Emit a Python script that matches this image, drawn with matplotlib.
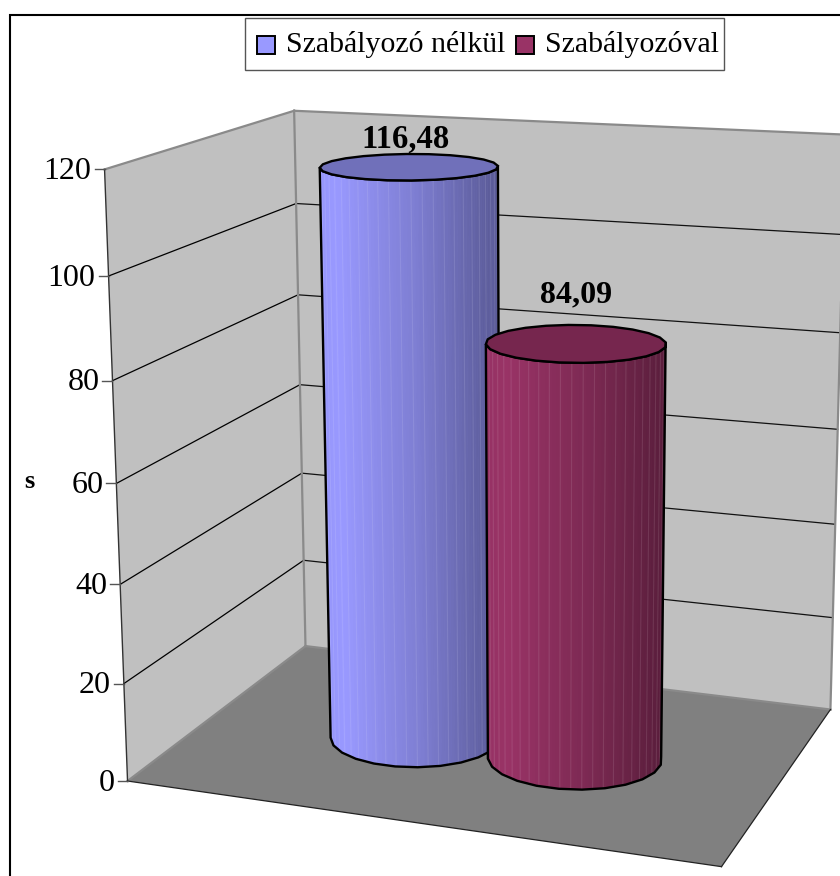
import numpy as np
import matplotlib
matplotlib.use("Agg")
import matplotlib.pyplot as plt
from matplotlib.patches import Polygon, Rectangle

# data
series_names = ["Szabályozó nélkül", "Szabályozóval"]
series_values = [116.48, 84.09]
value_labels = ["116,48", "84,09"]
axis_ticks = [0, 20, 40, 60, 80, 100, 120]
axis_title = "s"
axis_max = 120

# box points (x, depth, value) and where they land on the canvas
box_corners = [(0, 0, 0), (0, 0, 1), (0, 1, 0), (0, 1, 1), (1, 1, 0), (1, 1, 1), (1, 0, 0),
               (0, 0, 0.5), (0, 1, 0.5), (1, 1, 0.5)]
canvas_corners = [(127, 781), (105, 169.5), (305, 645), (295, 110), (831, 709), (844, 133), (722, 866),
                  (116, 484), (300, 386), (838, 432)]

# cylinders on the floor
centers_x = [0.368, 0.653]
center_z = 0.485
radius_x = 0.145
radius_z = 0.195
n_sides = 24

base_colors = ["#9999FF", "#993366"]
top_colors = ["#7070BA", "#76264E"]
label_offsets = [(-3, -28), (0, -48)]


def fit_camera(world, canvas):
    rows = []
    for (X, Y, Z), (u, v) in zip(world, canvas):
        rows.append([X, Y, Z, 1, 0, 0, 0, 0, -u*X, -u*Y, -u*Z, -u])
        rows.append([0, 0, 0, 0, X, Y, Z, 1, -v*X, -v*Y, -v*Z, -v])
    _, _, vt = np.linalg.svd(np.array(rows, dtype=float))
    return vt[-1].reshape(3, 4)


P = fit_camera(box_corners, canvas_corners)


def proj(x, z, val):
    # x and z go 0..1 across the box, val is in axis units
    x, z = np.asarray(x, float), np.asarray(z, float)
    h = np.full(np.broadcast(x, z).shape, val/axis_max, dtype=float)
    pts = np.stack([x*np.ones_like(h), z*np.ones_like(h), h, np.ones_like(h)])
    uvw = P @ pts.reshape(4, -1)
    return np.column_stack([uvw[0]/uvw[2], uvw[1]/uvw[2]])


def side(x0, z0, x1, z1, val):
    return proj([x0, x1], [z0, z1], val)


fig = plt.figure(figsize=(8.4, 8.76), dpi=100)
ax = fig.add_axes([0, 0, 1, 1])
ax.set_xlim(0, 840)
ax.set_ylim(876, 0)
ax.axis("off")
plt.rcParams["font.family"] = ["Liberation Serif", "DejaVu Serif"]

# chart frame
ax.plot([9.5, 9.5, 845], [880, 14.5, 14.5], color="black", lw=1.5, solid_joinstyle="miter")

# walls and floor
left_wall = np.vstack([side(0, 0, 0, 1, 0), side(0, 1, 0, 0, axis_max)])
back_wall = np.vstack([side(0, 1, 1, 1, 0), side(1, 1, 0, 1, axis_max)])
floor = np.vstack([side(0, 0, 1, 0, 0), side(1, 1, 0, 1, 0)])
ax.add_patch(Polygon(left_wall, fc="#C0C0C0", ec="none", zorder=1))
ax.add_patch(Polygon(back_wall, fc="#C0C0C0", ec="none", zorder=1))
ax.add_patch(Polygon(floor, fc="#808080", ec="none", zorder=1))

# gridlines
for t in axis_ticks[1:-1]:
    a = side(0, 0, 0, 1, t)
    b = side(0, 1, 1, 1, t)
    ax.plot(a[:, 0], a[:, 1], color="black", lw=0.9, zorder=2)
    ax.plot(b[:, 0], b[:, 1], color="#111111", lw=0.9, zorder=2)

# wall edges
for e in [side(0, 0, 0, 1, axis_max), side(0, 1, 1, 1, axis_max), side(0, 1, 1, 1, 0),
          side(0, 0, 0, 1, 0), np.vstack([proj(0, 1, 0), proj(0, 1, axis_max)]),
          np.vstack([proj(1, 1, 0), proj(1, 1, axis_max)])]:
    ax.plot(e[:, 0], e[:, 1], color="#8A8A8A", lw=1.6, zorder=2)
e = np.vstack([proj(0, 0, 0), proj(0, 0, axis_max)])
ax.plot(e[:, 0], e[:, 1], color="#333333", lw=1.0, zorder=2)
for e in [side(0, 0, 1, 0, 0), side(1, 0, 1, 1, 0)]:
    ax.plot(e[:, 0], e[:, 1], color="#222222", lw=0.9, zorder=2)

# value axis
for t in axis_ticks:
    p = proj(0, 0, t)[0]
    ax.plot([p[0]-10, p[0]], [p[1], p[1]], color="#555555", lw=1.0, zorder=2)
    ax.text(p[0]-13, p[1]+2, str(t), ha="right", va="center", fontsize=23, color="black")
ax.text(29, 481, axis_title, ha="center", va="center", fontsize=19, fontweight="bold")


def shade(frac):
    return np.interp(frac, [0, 0.12, 0.55, 1], [0.98, 1.0, 0.82, 0.58])


# cylinders, back one first
angles = np.linspace(0, 2*np.pi, n_sides, endpoint=False) + np.pi/n_sides
fine = np.linspace(np.pi*0.92, np.pi*2.08, 90)
for i, val in enumerate(series_values):
    cx = centers_x[i]
    ring_x = cx + radius_x*np.cos(angles)
    ring_z = center_z + radius_z*np.sin(angles)
    top = proj(ring_x, ring_z, val)
    bot = proj(ring_x, ring_z, 0)

    def front_arc(pts):
        # lower run of the ring, between its left and right extremes
        il, ir = np.argmin(pts[:, 0]), np.argmax(pts[:, 0])
        idx = [il]
        while idx[-1] != ir:
            idx.append((idx[-1]+1) % n_sides)
        return pts[idx]

    top_arc = front_arc(top)
    bot_arc = front_arc(bot)
    hull = np.vstack([bot_arc, top_arc[::-1]])
    body = Polygon(hull, fc=base_colors[i], ec="none", zorder=3+i)
    ax.add_patch(body)

    rgb = np.array(matplotlib.colors.to_rgb(base_colors[i]))
    fx = cx + radius_x*np.cos(fine)
    fz = center_z + radius_z*np.sin(fine)
    ft = proj(fx, fz, val)
    fb = proj(fx, fz, 0)
    xmin, xmax = hull[:, 0].min(), hull[:, 0].max()
    for k in range(len(fine)-1):
        quad = np.array([fb[k], fb[k+1], ft[k+1], ft[k]])
        frac = (quad[:, 0].mean()-xmin)/(xmax-xmin)
        strip = Polygon(quad, fc=rgb*shade(frac), ec=rgb*shade(frac), lw=0.4, zorder=3+i)
        ax.add_patch(strip)
        strip.set_clip_path(body)
        if k % 3 == 0:
            seam, = ax.plot([fb[k, 0], ft[k, 0]], [fb[k, 1], ft[k, 1]], color="white",
                            alpha=0.1, lw=0.8, zorder=3+i)
            seam.set_clip_path(body)

    # outline closed back to the first point so the left side gets its line
    ax.add_patch(Polygon(hull, fc="none", ec="black", lw=1.7, zorder=3+i, closed=True))
    ax.add_patch(Polygon(top, fc=top_colors[i], ec="black", lw=1.7, zorder=3+i))
    c = proj(cx, center_z, val)[0]
    ax.text(c[0]+label_offsets[i][0], c[1]+label_offsets[i][1], value_labels[i], ha="center",
            va="center", fontsize=23.5 if i == 0 else 23, fontweight="bold", zorder=10)

# legend box
ax.add_patch(Rectangle((245, 18), 479, 52, fc="white", ec="#555555", lw=1.0, zorder=11))
for x_box, x_text, c, name in zip([257, 516], [286, 545], base_colors, series_names):
    ax.add_patch(Rectangle((x_box, 36), 18, 18, fc=c, ec="black", lw=1.4, zorder=12))
    ax.text(x_text, 45, name, ha="left", va="center", fontsize=21.5, zorder=12)

fig.savefig("out.png", dpi=100)
